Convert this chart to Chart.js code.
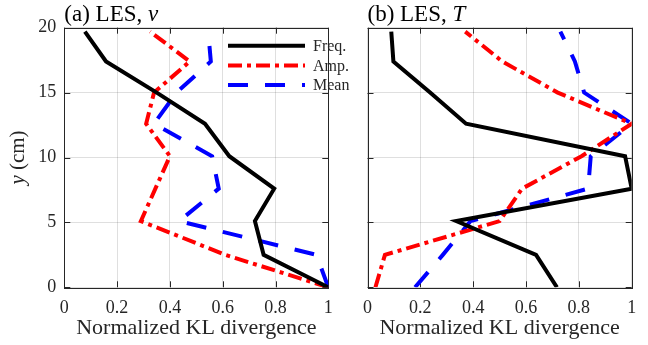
<!DOCTYPE html>
<html>
<head>
<meta charset="utf-8">
<script src="https://cdn.jsdelivr.net/npm/chart.js@4.4.0/dist/chart.umd.min.js"></script>
<style>
  body { margin: 0; background: #fff; }
  #wrap { position: relative; width: 648px; height: 345px; background: #fff; }
  canvas { position: absolute; top: 0; }
</style>
</head>
<body>
<div id="wrap">
  <canvas id="chartA" width="355" height="345" style="left:0px"></canvas>
  <canvas id="chartB" width="308" height="345" style="left:340px"></canvas>
</div>
<script>
// heights where the KL divergence was evaluated (cm)
const heights = [0, 2.5, 5.1, 7.6, 10.1, 12.6, 15, 17.4, 19.7];

// (a) LES, v
const freqV = [1.0, 0.755, 0.722, 0.795, 0.625, 0.533, 0.35, 0.158, 0.078];
const ampV  = [1.0, 0.61, 0.29, 0.345, 0.40, 0.31, 0.34, 0.475, 0.325];
const meanV = [1.0, 0.955, 0.435, 0.585, 0.56, 0.34, 0.425, 0.555, 0.545];

// (b) LES, T
const freqT = [0.717, 0.638, 0.336, 1.0, 0.975, 0.373, 0.237, 0.098, 0.09];
const ampT  = [0.03, 0.066, 0.50, 0.585, 0.81, 1.0, 0.72, 0.51, 0.37];
const meanT = [0.18, 0.285, 0.39, 0.835, 0.845, 1.0, 0.82, 0.785, 0.73];

const seriesNames = ['Freq.', 'Amp.', 'Mean'];
const xTicks = [0, 0.2, 0.4, 0.6, 0.8, 1];
const yTicks = [0, 5, 10, 15, 20];

const SERIF = '"Liberation Serif", "DejaVu Serif", serif';
const AXIS = '#262626';

function pts(xs) {
  return xs.map((v, i) => ({ x: v, y: heights[i] }));
}

function datasets(f, a, m) {
  return [
    { label: seriesNames[0], data: pts(f), borderColor: '#000000', borderWidth: 4 },
    { label: seriesNames[1], data: pts(a), borderColor: '#ff0000', borderWidth: 4, borderDash: [14, 5, 4, 5] },
    { label: seriesNames[2], data: pts(m), borderColor: '#0000ff', borderWidth: 4, borderDash: [20, 17] }
  ].map(d => Object.assign(d, { pointRadius: 0, tension: 0, fill: false, borderCapStyle: 'butt' }));
}

// draw text made of normal/italic pieces
function richText(ctx, parts, x, y, size, align) {
  const fonts = parts.map(p => (p[1] ? 'italic ' : '') + size + 'px ' + SERIF);
  let total = 0;
  const widths = parts.map((p, i) => { ctx.font = fonts[i]; const w = ctx.measureText(p[0]).width; total += w; return w; });
  let cx = align === 'center' ? x - total / 2 : x;
  ctx.textAlign = 'left';
  parts.forEach((p, i) => { ctx.font = fonts[i]; ctx.fillText(p[0], cx, y); cx += widths[i]; });
}

// MATLAB-like box with inward ticks
const frame = {
  id: 'frame',
  beforeDatasetsDraw(chart) {
    const { ctx, chartArea: a, scales } = chart;
    ctx.save();
    ctx.strokeStyle = AXIS;
    ctx.lineWidth = 1;
    ctx.beginPath();
    xTicks.forEach(v => {
      const px = Math.round(scales.x.getPixelForValue(v)) + 0.5;
      ctx.moveTo(px, a.bottom); ctx.lineTo(px, a.bottom - 6);
      ctx.moveTo(px, a.top); ctx.lineTo(px, a.top + 6);
    });
    yTicks.forEach(v => {
      const py = Math.round(scales.y.getPixelForValue(v)) + 0.5;
      ctx.moveTo(a.left, py); ctx.lineTo(a.left + 6, py);
      ctx.moveTo(a.right, py); ctx.lineTo(a.right - 6, py);
    });
    ctx.stroke();
    ctx.strokeRect(Math.round(a.left) + 0.5, Math.round(a.top) + 0.5,
      Math.round(a.right - a.left), Math.round(a.bottom - a.top));
    ctx.restore();
  },
  afterDraw(chart) {
    const { ctx, chartArea: a } = chart;
    const o = chart.options.plugins.frame;
    ctx.save();
    ctx.fillStyle = '#000';
    ctx.textBaseline = 'alphabetic';
    richText(ctx, o.title, a.left, 21, 23, 'left');
    if (o.ylabel) {
      ctx.fillStyle = AXIS;
      ctx.translate(24, (a.top + a.bottom) / 2);
      ctx.rotate(-Math.PI / 2);
      richText(ctx, o.ylabel, 0, 0, 21, 'center');
    }
    ctx.restore();
  }
};

// legend drawn inside panel (a), using the dataset styles
const lineLegend = {
  id: 'lineLegend',
  afterDraw(chart) {
    const o = chart.options.plugins.lineLegend;
    if (!o || !o.show) return;
    const ctx = chart.ctx;
    ctx.save();
    chart.data.datasets.forEach((ds, i) => {
      const y = o.y + i * 19.7;
      ctx.strokeStyle = ds.borderColor;
      ctx.lineWidth = ds.borderWidth;
      ctx.setLineDash(ds.borderDash || []);
      ctx.lineCap = 'butt';
      ctx.beginPath();
      ctx.moveTo(o.x, y); ctx.lineTo(o.x + 77, y);
      ctx.stroke();
      ctx.setLineDash([]);
      ctx.fillStyle = AXIS;
      ctx.font = '16px ' + SERIF;
      ctx.textBaseline = 'middle';
      ctx.textAlign = 'left';
      ctx.fillText(ds.label, o.x + 85, y + 1);
    });
    ctx.restore();
  }
};

function makeChart(id, sets, opts) {
  return new Chart(document.getElementById(id), {
    type: 'line',
    data: { datasets: sets },
    plugins: [frame, lineLegend],
    options: {
      responsive: false,
      animation: false,
      layout: { autoPadding: false, padding: { top: 27.7, right: opts.padRight, bottom: 0, left: 0 } },
      plugins: {
        legend: { display: false },
        tooltip: { enabled: false },
        frame: { title: opts.title, ylabel: opts.ylabel },
        lineLegend: { show: opts.legend, x: 228, y: 45.7 }
      },
      scales: {
        x: {
          type: 'linear', min: 0, max: 1,
          afterBuildTicks: s => { s.ticks = xTicks.map(v => ({ value: v })); },
          afterFit: s => { s.height = 57.7; },
          grid: { color: 'rgba(38,38,38,0.15)', drawTicks: false },
          border: { display: false },
          ticks: { color: AXIS, padding: 10, font: { family: SERIF, size: 18 }, callback: v => String(+(+v).toFixed(1)) },
          title: { display: true, text: 'Normalized KL divergence', color: AXIS,
            font: { family: SERIF, size: 22, lineHeight: 1.2 }, padding: { top: 0, bottom: 4 } }
        },
        y: {
          type: 'linear', min: 0, max: 20,
          afterBuildTicks: s => { s.ticks = yTicks.map(v => ({ value: v })); },
          afterFit: s => { s.width = opts.yWidth; },
          grid: { color: 'rgba(38,38,38,0.15)', drawTicks: false },
          border: { display: false },
          ticks: { display: opts.yLabels, color: AXIS, padding: 8, font: { family: SERIF, size: 18 } }
        }
      }
    }
  });
}

makeChart('chartA', datasets(freqV, ampV, meanV), {
  title: [['(a) LES, ', false], ['v', true]],
  ylabel: [['y', true], [' (cm)', false]],
  legend: true, yLabels: true, yWidth: 64.3, padRight: 355 - 328.3
});

makeChart('chartB', datasets(freqT, ampT, meanT), {
  title: [['(b) LES, ', false], ['T', true]],
  ylabel: null,
  legend: false, yLabels: false, yWidth: 27.5, padRight: 308 - 291.7
});
</script>
</body>
</html>
